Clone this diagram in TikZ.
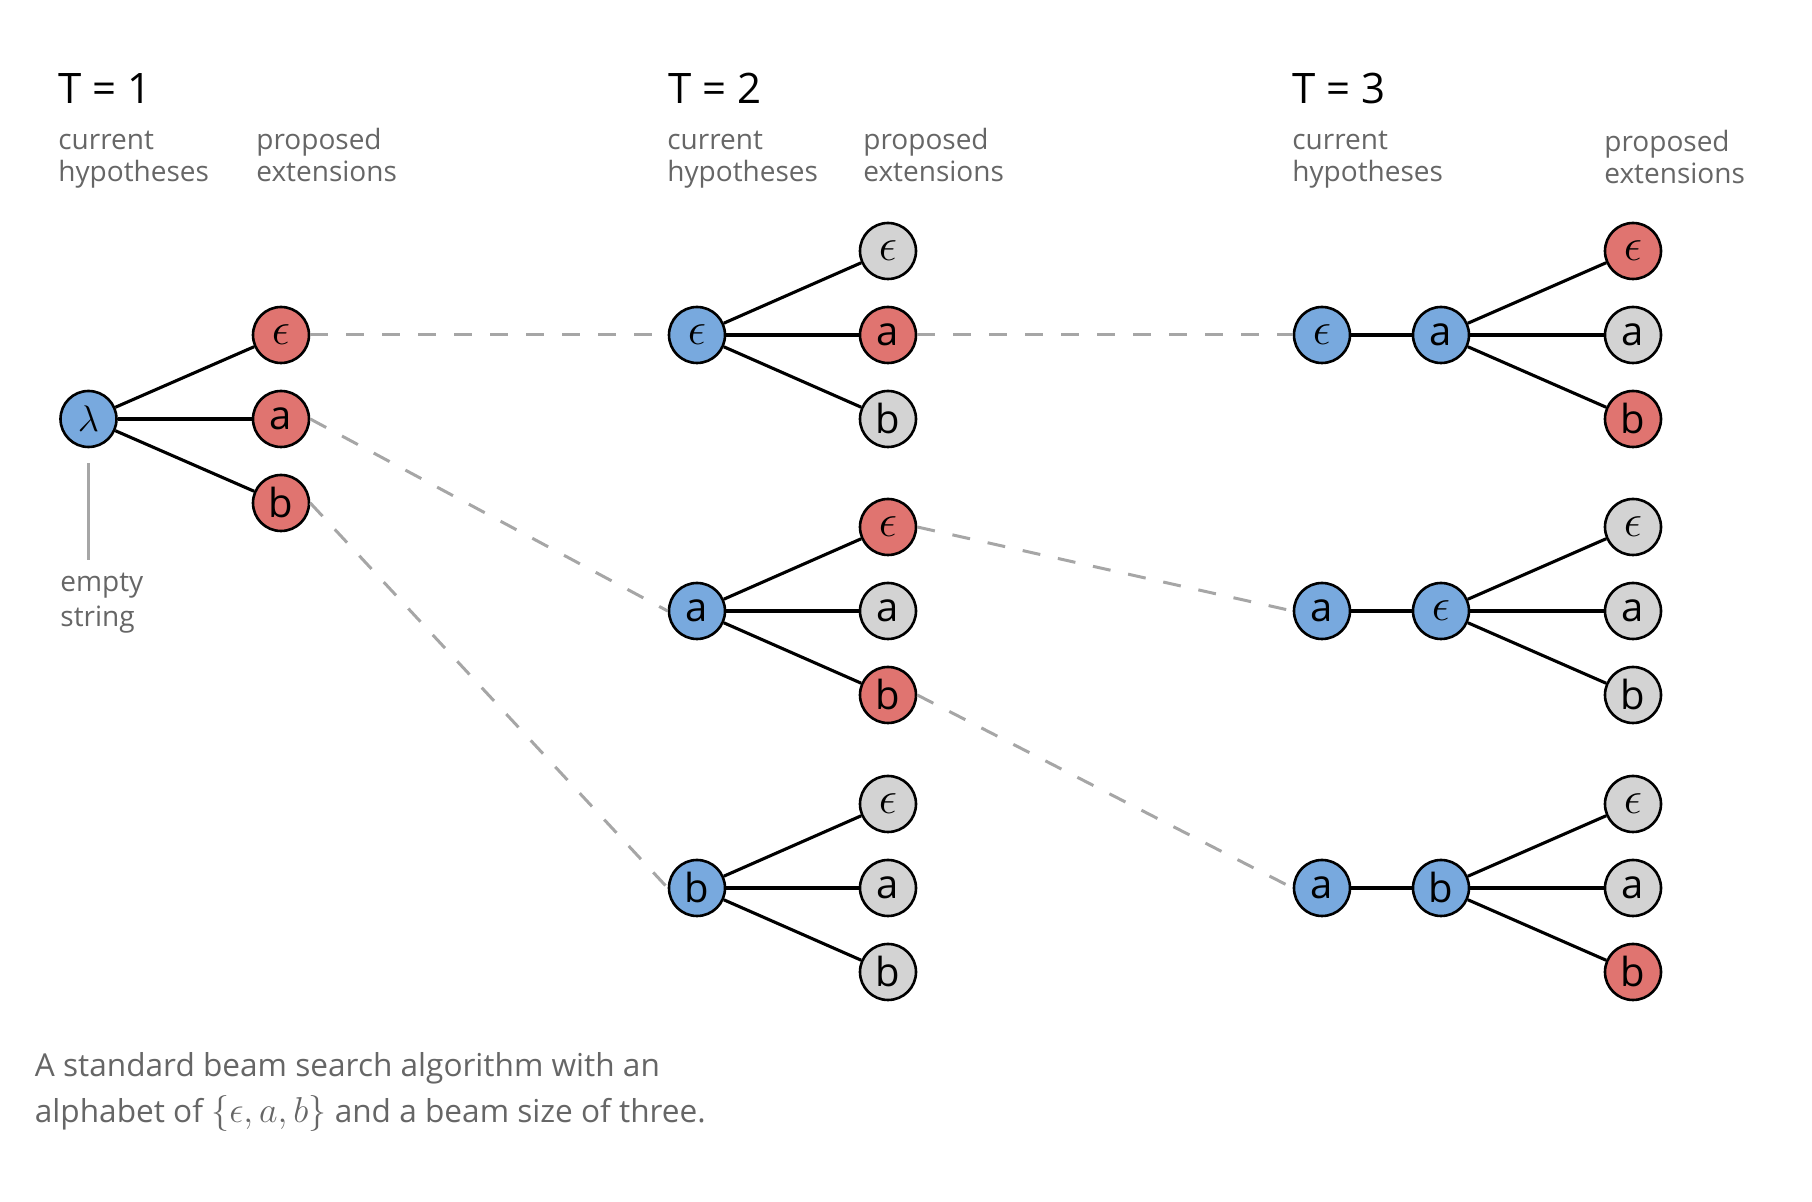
\RequirePackage{fix-cm}
\documentclass[tikz,border=0pt]{standalone}
\usepackage{fontspec}
\setmainfont{Open Sans}
\definecolor{hypblue}{HTML}{78A9DE}
\definecolor{extred}{HTML}{E07470}
\definecolor{extgray}{HTML}{D3D3D3}
\definecolor{notegray}{HTML}{666666}
\definecolor{dashgray}{HTML}{A6A6A6}
\newcommand{\epsym}{{\fontsize{23}{25}\selectfont$\epsilon$}}
\newcommand{\lamsym}{{\fontsize{18.5}{20}\selectfont$\lambda$}}
\tikzset{
	sym/.style={circle,draw=black,line width=1.3pt,minimum size=28pt,inner sep=0pt,
		font=\fontsize{20}{22}\selectfont},
	hyp/.style={sym,fill=hypblue},
	keep/.style={sym,fill=extred},
	drop/.style={sym,fill=extgray},
	link/.style={line width=1.55pt},
	beam/.style={dashgray,line width=1.5pt,dash pattern=on 9pt off 9pt},
	pointer/.style={dashgray,line width=1.4pt},
	title/.style={anchor=base west,inner sep=0pt,font=\fontsize{21}{25}\selectfont},
	note/.style={anchor=base west,align=left,text=notegray,inner sep=0pt,
		font=\fontsize{14}{16}\selectfont},
}
\begin{document}
\begin{tikzpicture}[x=0.5pt,y=-0.5pt]
	\useasboundingbox (0,0) rectangle (1812,1202);

	% Headers (notes sit on the baseline of their last line)
	\node[title] (head1) at (58,104) {T = 1};
	\node[title] (head2) at (668,104) {T = 2};
	\node[title] (head3) at (1292,104) {T = 3};
	\node[note] (cur1) at (58,182) {current\\hypotheses};
	\node[note] (ext1) at (256,182) {proposed\\extensions};
	\node[note] (cur2) at (667,182) {current\\hypotheses};
	\node[note] (ext2) at (863,182) {proposed\\extensions};
	\node[note] (cur3) at (1292,182) {current\\hypotheses};
	\node[note] (ext3) at (1604,184) {proposed\\extensions};

	% T = 1
	\node[hyp] (lam) at (88.5,419) {\lamsym};
	\node[keep] (t1e) at (281,335) {\epsym};
	\node[keep] (t1a) at (281,419) {a};
	\node[keep] (t1b) at (281,503) {b};
	\foreach \s in {e,a,b}
		\draw[link] (lam) -- (t1\s);

	% Empty string note
	\coordinate (emptytop) at (88.5,463);
	\coordinate (emptybot) at (88.5,560);
	\draw[pointer] (emptytop) -- (emptybot);
	\node[note,font=\fontsize{14}{17.5}\selectfont] (emptynote) at (60,627) {empty\\string};

	% T = 2
	\node[hyp] (t2g1) at (697,335) {\epsym};
	\node[drop] (t2g1e) at (888,251) {\epsym};
	\node[keep] (t2g1a) at (888,335) {a};
	\node[drop] (t2g1b) at (888,419) {b};

	\node[hyp] (t2g2) at (697,611) {a};
	\node[keep] (t2g2e) at (888,527) {\epsym};
	\node[drop] (t2g2a) at (888,611) {a};
	\node[keep] (t2g2b) at (888,695) {b};

	\node[hyp] (t2g3) at (697,888) {b};
	\node[drop] (t2g3e) at (888,804) {\epsym};
	\node[drop] (t2g3a) at (888,888) {a};
	\node[drop] (t2g3b) at (888,972) {b};

	\foreach \g in {1,2,3}
		\foreach \s in {e,a,b}
			\draw[link] (t2g\g) -- (t2g\g\s);

	% T = 3
	\node[hyp] (t3g1p) at (1322,335) {\epsym};
	\node[hyp] (t3g1) at (1441,335) {a};
	\node[keep] (t3g1e) at (1633,251) {\epsym};
	\node[drop] (t3g1a) at (1633,335) {a};
	\node[keep] (t3g1b) at (1633,419) {b};

	\node[hyp] (t3g2p) at (1322,611) {a};
	\node[hyp] (t3g2) at (1441,611) {\epsym};
	\node[drop] (t3g2e) at (1633,527) {\epsym};
	\node[drop] (t3g2a) at (1633,611) {a};
	\node[drop] (t3g2b) at (1633,695) {b};

	\node[hyp] (t3g3p) at (1322,888) {a};
	\node[hyp] (t3g3) at (1441,888) {b};
	\node[drop] (t3g3e) at (1633,804) {\epsym};
	\node[drop] (t3g3a) at (1633,888) {a};
	\node[keep] (t3g3b) at (1633,972) {b};

	\foreach \g in {1,2,3} {
		\draw[link] (t3g\g p) -- (t3g\g);
		\foreach \s in {e,a,b}
			\draw[link] (t3g\g) -- (t3g\g\s);
	}

	% Beam carried forward
	\draw[beam] (t1e.east) -- (t2g1.west);
	\draw[beam] (t1a.east) -- (t2g2.west);
	\draw[beam] (t1b.east) -- (t2g3.west);
	\draw[beam] (t2g1a.east) -- (t3g1p.west);
	\draw[beam] (t2g2e.east) -- (t3g2p.west);
	\draw[beam] (t2g2b.east) -- (t3g3p.west);

	% Caption
	\node[note,font=\fontsize{15.8}{23}\selectfont] (caption) at (34.5,1123)
		{A standard beam search algorithm with an\\alphabet of {\fontsize{18}{23}\selectfont$\{\epsilon, a, b\}$} and a beam size of three.};
\end{tikzpicture}
\end{document}
